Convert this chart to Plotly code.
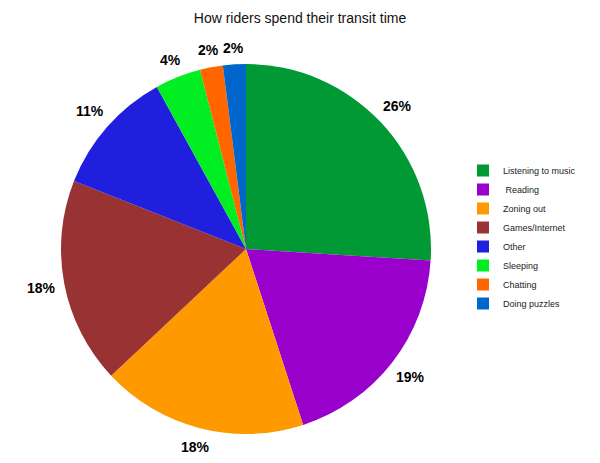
import math
import plotly.graph_objects as go

labels = ["Listening to music", " Reading", "Zoning out", "Games/Internet", "Other", "Sleeping", "Chatting", "Doing puzzles"]
values = [26, 19, 18, 18, 11, 4, 2, 2]
colors = ["#009933", "#9900CC", "#FF9900", "#993333", "#1F1FDD", "#00EE22", "#FF6600", "#0066CC"]

W, H = 600, 463
cx, cy, r = 246, 249, 185

fig = go.Figure(go.Pie(
    labels=labels, values=values, sort=False, direction="clockwise", rotation=0,
    marker=dict(colors=colors, line=dict(color="white", width=0)),
    textinfo="none",
    domain=dict(x=[(cx - r) / W, (cx + r) / W], y=[(H - cy - r) / H, (H - cy + r) / H]),
    hoverinfo="label+percent", showlegend=True,
))

# percentage labels placed outside each slice, derived from the values
total = sum(values)
cum = 0
for v in values:
    theta = math.radians((cum + v / 2) / total * 360)
    cum += v
    txt = f"{round(v / total * 100)}%"
    w = 9 * len(txt)
    h = 16
    d = r + 8 + (w / 2) * abs(math.sin(theta)) + (h / 2) * abs(math.cos(theta))
    px = cx + d * math.sin(theta)
    py = cy - d * math.cos(theta)
    fig.add_annotation(x=px / W, y=1 - py / H, xref="paper", yref="paper",
                       text=f"<b>{txt}</b>", showarrow=False, xanchor="center", yanchor="middle",
                       font=dict(family="Liberation Sans, Arial", size=14, color="#000000"))

fig.update_layout(
    width=W, height=H, margin=dict(l=0, r=0, t=0, b=0),
    paper_bgcolor="white", plot_bgcolor="white",
    title=dict(text="How riders spend their transit time", x=0.5, xanchor="center",
               y=1 - 18 / H, yanchor="middle", font=dict(family="Liberation Sans, Arial", size=14, color="#111111")),
    legend=dict(x=463 / W, xanchor="left", y=1 - 156 / H, yanchor="top",
                font=dict(family="Liberation Sans, Arial", size=9, color="#222222"),
                tracegroupgap=0, itemwidth=30),
)
fig.write_html("out.html", config={"displayModeBar": False},
               post_script="document.body.style.margin='0';document.body.style.padding='0';")
